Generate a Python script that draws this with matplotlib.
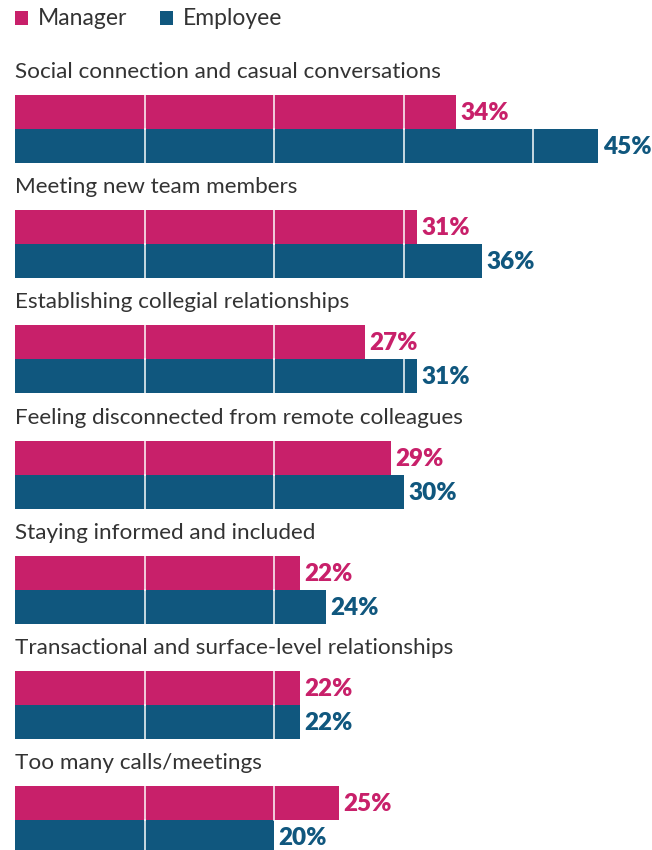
import matplotlib.pyplot as plt
from matplotlib.patches import Rectangle

categories = [
    "Social connection and casual conversations",
    "Meeting new team members",
    "Establishing collegial relationships",
    "Feeling disconnected from remote colleagues",
    "Staying informed and included",
    "Transactional and surface-level relationships",
    "Too many calls/meetings",
]
manager = [34, 31, 27, 29, 22, 22, 25]
employee = [45, 36, 31, 30, 24, 22, 20]

series_names = ["Manager", "Employee"]
colors = ["#C8206A", "#10577E"]
text_color = "#333333"

plt.rcParams['font.family'] = ['Lato', 'DejaVu Sans']

fig = plt.figure(figsize=(6.52, 8.5), dpi=100)
ax = fig.add_axes([0, 0, 1, 1])
# x in percent: 0% at 15 px, 10% ~ 129.6 px
px_per_pct = 12.96
ax.set_xlim(-15 / px_per_pct, (652 - 15) / px_per_pct)
ax.set_ylim(850, 0)  # y in pixels, top down
ax.axis("off")

spacing = 115.2
bar_h = 34
first_bar_top = 95

for i, cat in enumerate(categories):
    top = first_bar_top + i * spacing
    ax.text(0, top - 23, cat, fontsize=16.2, color=text_color, va="center", ha="left")
    for j, vals in enumerate([manager, employee]):
        y = top + j * bar_h + bar_h / 2
        v = vals[i]
        ax.barh(y, v, height=bar_h, left=0, color=colors[j], edgecolor="none")
        # white gridlines every 10%
        for g in range(10, v, 10):
            ax.plot([g, g], [y - bar_h / 2, y + bar_h / 2], color="white", lw=1.2, alpha=0.9)
        ax.text(v + 0.35, y + 1, f"{v}%", fontsize=17.5, fontweight="heavy",
                color=colors[j], va="center", ha="left")

# legend
lx = [0, 11.2]
for j, name in enumerate(series_names):
    ax.add_patch(Rectangle((lx[j], 11), 13 / px_per_pct, 14, color=colors[j], lw=0))
    ax.text(lx[j] + 23 / px_per_pct, 18, name, fontsize=16.5, color=text_color,
            va="center", ha="left")

fig.savefig("out.png", dpi=100)
